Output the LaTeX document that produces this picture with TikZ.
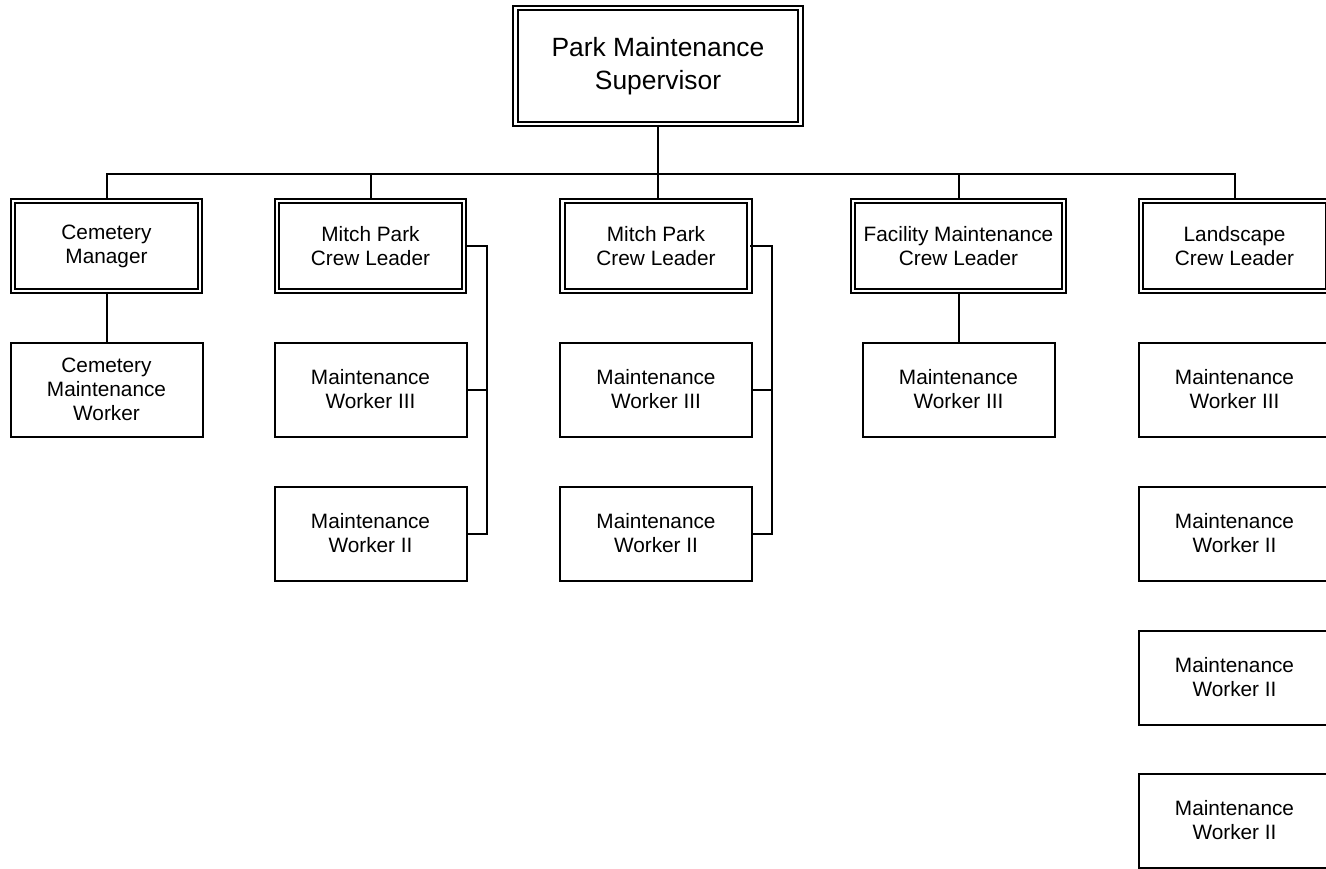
\documentclass[tikz,border=0pt]{standalone}
\usepackage{fontspec}
\setmainfont{Liberation Sans}
\tikzset{
  base/.style={align=center, inner sep=0pt, fill=white, text=black},
  topbox/.style={base, draw, double, line width=1.2pt, double distance=2.2pt,
    minimum width=213.75pt, minimum height=87pt, font=\fontsize{19.8}{24.5}\selectfont},
  leadbox/.style={base, draw, double, line width=1.2pt, double distance=2.2pt,
    minimum width=140.25pt, minimum height=67.5pt, font=\fontsize{15.6}{18}\selectfont},
  workbox/.style={base, draw, line width=1.5pt,
    minimum width=144pt, minimum height=70.5pt, font=\fontsize{15.6}{18}\selectfont},
  conn/.style={draw, line width=1.5pt}
}
\begin{document}
\begin{tikzpicture}[x=0.75pt, y=-0.75pt]
\clip (0,0) rectangle (1326,868);
\fill[white] (0,0) rectangle (1326,868);
% top
\node[topbox] (top) at (658,66) {Park Maintenance\\Supervisor};
% level 2
\node[leadbox] (cem) at (106.5,246) {Cemetery\\Manager};
\node[leadbox] (mp1) at (370.5,246) {Mitch Park\\Crew Leader};
\node[leadbox] (mp2) at (656,246) {Mitch Park\\Crew Leader};
\node[leadbox, minimum width=158.25pt] (fac) at (958.5,246) {Facility Maintenance\\Crew Leader};
\node[leadbox] (lan) at (1234.5,246) {Landscape\\Crew Leader};
% workers
\node[workbox] (cemw) at (106.5,389.5) {Cemetery\\Maintenance\\Worker};
\node[workbox] (mp1a) at (370.5,389.5) {Maintenance\\Worker III};
\node[workbox] (mp1b) at (370.5,533.5) {Maintenance\\Worker II};
\node[workbox] (mp2a) at (656,389.5) {Maintenance\\Worker III};
\node[workbox] (mp2b) at (656,533.5) {Maintenance\\Worker II};
\node[workbox] (facw) at (958.5,389.5) {Maintenance\\Worker III};
\node[workbox] (lana) at (1234.5,389.5) {Maintenance\\Worker III};
\node[workbox] (lanb) at (1234.5,533.5) {Maintenance\\Worker II};
\node[workbox] (lanc) at (1234.5,677.5) {Maintenance\\Worker II};
\node[workbox] (land) at (1234.5,820.5) {Maintenance\\Worker II};
% connectors
\coordinate (bus) at (0,174);
\coordinate (side1) at (487,246);
\coordinate (side2) at (772,246);
\draw[conn] (top.south) -- (top.south |- mp2.north);
\foreach \c in {cem,mp1,fac,lan}{
  \draw[conn] (top.south |- bus) -| (\c.north);
}
\draw[conn] (cem.south) -- (cemw.north);
\draw[conn] (fac.south) -- (facw.north);
\draw[conn] (mp1.east) -- (side1) |- (mp1a.east);
\draw[conn] (side1) |- (mp1b.east);
\draw[conn] (mp2.east) -- (side2) |- (mp2a.east);
\draw[conn] (side2) |- (mp2b.east);
\end{tikzpicture}
\end{document}
